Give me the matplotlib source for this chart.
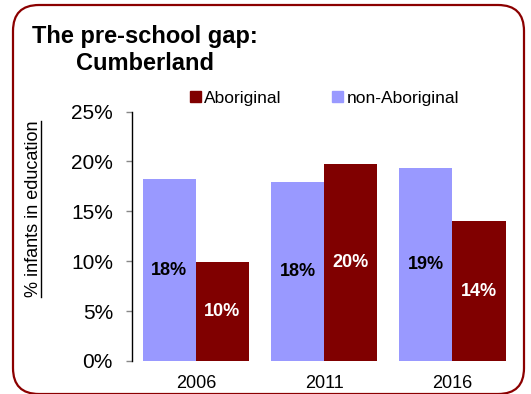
import matplotlib
matplotlib.use("Agg")
import matplotlib.pyplot as plt
from matplotlib.patches import FancyBboxPatch, Patch
from matplotlib.lines import Line2D
import numpy as np

plt.rcParams['font.family'] = ['Liberation Sans', 'DejaVu Sans']

years = ["2006", "2011", "2016"]
non_aboriginal = [18.2, 17.9, 19.3]
aboriginal = [9.9, 19.7, 14.0]
non_ab_labels = ["18%", "18%", "19%"]
ab_labels = ["10%", "20%", "14%"]
yticks = [0, 5, 10, 15, 20, 25]
ytick_labels = ["0%", "5%", "10%", "15%", "20%", "25%"]

C_NON = "#9999FF"
C_AB = "#800000"

W, H = 531, 394
fig = plt.figure(figsize=(W / 100, H / 100), dpi=100)
ax = fig.add_axes([131.7 / W, 1 - 361 / H, (516.5 - 131.7) / W, (361 - 111.5) / H])

x = np.arange(len(years))
bw = 0.415
b1 = ax.bar(x - bw / 2, non_aboriginal, width=bw, color=C_NON, label="non-Aboriginal")
b2 = ax.bar(x + bw / 2, aboriginal, width=bw, color=C_AB, label="Aboriginal")

for rect, lab in zip(b1, non_ab_labels):
    ax.text(rect.get_x() + rect.get_width() / 2, rect.get_height() / 2, lab,
            ha="center", va="center", fontsize=13, fontweight="bold", color="black")
for rect, lab in zip(b2, ab_labels):
    ax.text(rect.get_x() + rect.get_width() / 2, rect.get_height() / 2, lab,
            ha="center", va="center", fontsize=13, fontweight="bold", color="white")

ax.set_xlim(-0.5, 2.5)
ax.set_ylim(0, 25)
ax.set_yticks(yticks)
ax.set_yticklabels(ytick_labels, fontsize=15)
ax.set_xticks(x)
ax.set_xticklabels(years, fontsize=13)
ax.tick_params(axis="x", length=0, pad=10)
ax.tick_params(axis="y", length=4.5, width=1, color="#888888", pad=9)
for s in ["top", "right", "bottom"]:
    ax.spines[s].set_visible(False)
ax.spines["left"].set_linewidth(1)
ax.spines["left"].set_color("black")

# legend
handles = [Patch(color=C_AB, label="Aboriginal"), Patch(color=C_NON, label="non-Aboriginal")]
leg = fig.legend(handles=handles, loc="center left", bbox_to_anchor=(190 / W, 1 - 98 / H),
                 ncol=2, frameon=False, fontsize=12.5, handlelength=0.63, handleheight=0.63,
                 handletextpad=0.2, columnspacing=2.9, borderpad=0, borderaxespad=0)

# title
fig.text(32 / W, 1 - 37 / H, "The pre-school gap:", fontsize=17, fontweight="bold", va="center", ha="left")
fig.text(76 / W, 1 - 63 / H, "Cumberland", fontsize=17, fontweight="bold", va="center", ha="left")

# y label (underlined)
yl = fig.text(34 / W, 1 - 209 / H, "% infants in education", rotation=90, fontsize=13,
              va="center", ha="center")
fig.canvas.draw()
bb = yl.get_window_extent()
fig.add_artist(Line2D([bb.x1 - 1.5, bb.x1 - 1.5], [bb.y0, bb.y1], transform=None,
                      color="black", linewidth=1.0))

# rounded border
border = FancyBboxPatch((13, 0), 524 - 13, 389 - 0, boxstyle="round,pad=0,rounding_size=26",
                        transform=None, facecolor="none", edgecolor="#8B0000", linewidth=1.6,
                        mutation_scale=1)
fig.add_artist(border)

fig.savefig("out.png", dpi=100)
